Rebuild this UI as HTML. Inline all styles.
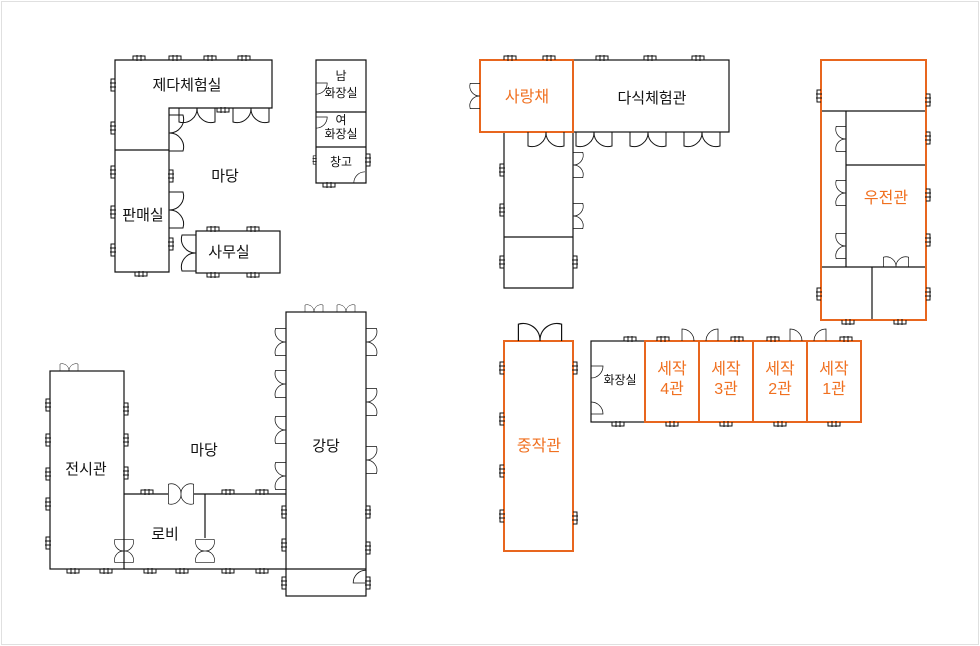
<!DOCTYPE html>
<html><head><meta charset="utf-8"><style>
html,body{margin:0;padding:0;background:#fff}
svg{display:block}
text{font-family:"Liberation Sans","Noto Sans CJK KR",sans-serif;font-size:15px;text-anchor:middle;dominant-baseline:middle;fill:#111}
.o{fill:#f07020;font-size:16px}
.s{font-size:12px}
</style></head><body>
<svg width="980" height="646" viewBox="0 0 980 646" xmlns="http://www.w3.org/2000/svg">
<defs>
<path id="w" d="M-6 0V-4H6V0M-2-5V1M2-5V1" fill="none" stroke="#111" stroke-width="1"/>
<path id="d" d="M-18 0V14A14 14 0 0 0 0 0A14 14 0 0 0 18 14V0" fill="none" stroke="#111" stroke-width="1"/>
<path id="ds" d="M0 0V-16A16 16 0 0 1 16 0" fill="none" stroke="#111" stroke-width="1"/>
<g id="dx"><path d="M-18 0V-14A14 14 0 0 1 0 0A14 14 0 0 1 18 -14V0 M-18 0V14A14 14 0 0 0 0 0A14 14 0 0 0 18 14V0" fill="none" stroke="#111" stroke-width="1"/></g>
</defs>
<rect x="1.5" y="1.5" width="977" height="643" fill="none" stroke="#e0e0e0"/>
<g fill="none" stroke="#111" stroke-width="1.2">
<path d="M115 60H272V108H169V272H115Z M115 150H169"/>
<rect x="196" y="231" width="84" height="42"/>
<path d="M316 60H366V183H316Z M316 112H366 M316 147H366"/>
<rect x="50" y="371" width="74" height="198"/>
<rect x="286" y="312" width="80" height="284"/>
<path d="M124 569H286 M286 569H366 M124 494H168 M194 494H286 M205 494V538"/>
<rect x="573" y="60" width="156" height="72"/>
<path d="M504 132V288H573V132 M504 237H573"/>
<rect x="591" y="341" width="54" height="81"/>
</g>
<g fill="none" stroke="#e8661e" stroke-width="2">
<rect x="480" y="60" width="93" height="72"/>
<rect x="821" y="60" width="105" height="260"/>
<rect x="504" y="341" width="69" height="210"/>
<rect x="645" y="341" width="54" height="81"/>
<rect x="699" y="341" width="54" height="81"/>
<rect x="753" y="341" width="54" height="81"/>
<rect x="807" y="341" width="54" height="81"/>
</g>
<g fill="none" stroke="#111" stroke-width="1.2">
<path d="M822 111H925 M846 111V267 M846 165H925 M822 267H925 M872 267V319"/>
</g>
<g>
<use href="#w" transform="translate(139,60)"/><use href="#w" transform="translate(175,60)"/><use href="#w" transform="translate(210,60)"/><use href="#w" transform="translate(244,60)"/>
<use href="#w" transform="translate(115,85) rotate(-90)"/><use href="#w" transform="translate(115,128) rotate(-90)"/><use href="#w" transform="translate(115,172) rotate(-90)"/><use href="#w" transform="translate(115,212) rotate(-90)"/><use href="#w" transform="translate(115,250) rotate(-90)"/>
<use href="#d" transform="translate(197,108)"/><use href="#d" transform="translate(251,108)"/><use href="#w" transform="translate(223,108) rotate(180)"/>
<use href="#d" transform="translate(169,133) rotate(-90)"/><use href="#d" transform="translate(169,210) rotate(-90)"/>
<use href="#w" transform="translate(169,176) rotate(90)"/><use href="#w" transform="translate(169,244) rotate(90)"/>
<use href="#w" transform="translate(141,272) rotate(180)"/>
<use href="#d" transform="translate(196,253) rotate(90)"/>
<use href="#w" transform="translate(213,231)"/><use href="#w" transform="translate(253,231)"/><use href="#w" transform="translate(213,273) rotate(180)"/><use href="#w" transform="translate(253,273) rotate(180)"/>
<use href="#ds" transform="translate(316,83) rotate(90) scale(0.7)"/><use href="#ds" transform="translate(316,117) rotate(90) scale(0.7)"/>
<use href="#ds" transform="translate(365,183) rotate(-90) scale(0.7)"/>
<use href="#w" transform="translate(316,160) rotate(-90) scale(0.7)"/><use href="#w" transform="translate(366,160) rotate(90)"/><use href="#w" transform="translate(329,183) rotate(180)"/>
<use href="#d" transform="translate(69,371) rotate(180) scale(0.5)"/>
<use href="#w" transform="translate(50,405) rotate(-90)"/><use href="#w" transform="translate(50,440) rotate(-90)"/><use href="#w" transform="translate(50,474) rotate(-90)"/><use href="#w" transform="translate(50,504) rotate(-90)"/><use href="#w" transform="translate(50,543) rotate(-90)"/>
<use href="#w" transform="translate(124,409) rotate(90)"/><use href="#w" transform="translate(124,440) rotate(90)"/><use href="#w" transform="translate(124,473) rotate(90)"/>
<use href="#w" transform="translate(73,569) rotate(180)"/><use href="#w" transform="translate(106,569) rotate(180)"/><use href="#w" transform="translate(150,569) rotate(180)"/><use href="#w" transform="translate(182,569) rotate(180)"/><use href="#w" transform="translate(228,569) rotate(180)"/><use href="#w" transform="translate(262,569) rotate(180)"/>
<use href="#w" transform="translate(147,494)"/><use href="#w" transform="translate(228,494)"/><use href="#w" transform="translate(262,494)"/>
<use href="#dx" transform="translate(181,494) scale(0.7)"/>
<use href="#dx" transform="translate(124,551) rotate(90) scale(0.65)"/><use href="#dx" transform="translate(205,551) rotate(90) scale(0.65)"/>
<use href="#d" transform="translate(314,312) rotate(180) scale(0.5)"/><use href="#d" transform="translate(346,312) rotate(180) scale(0.5)"/>
<use href="#d" transform="translate(286,342) rotate(90) scale(0.75)"/><use href="#d" transform="translate(286,384) rotate(90) scale(0.75)"/><use href="#d" transform="translate(286,430) rotate(90) scale(0.75)"/><use href="#d" transform="translate(286,476) rotate(90) scale(0.75)"/>
<use href="#d" transform="translate(366,342) rotate(-90) scale(0.75)"/><use href="#d" transform="translate(366,402) rotate(-90) scale(0.75)"/><use href="#d" transform="translate(366,460) rotate(-90) scale(0.75)"/>
<use href="#w" transform="translate(286,512) rotate(-90)"/><use href="#w" transform="translate(286,545) rotate(-90)"/><use href="#w" transform="translate(286,583) rotate(-90)"/>
<use href="#w" transform="translate(366,512) rotate(90)"/><use href="#w" transform="translate(366,548) rotate(90)"/><use href="#w" transform="translate(366,583) rotate(90)"/>
<use href="#ds" transform="translate(366,583) rotate(-90) scale(0.8)"/>
<use href="#w" transform="translate(510,60)"/><use href="#w" transform="translate(549,60)"/>
<use href="#w" transform="translate(602,60)"/><use href="#w" transform="translate(650,60)"/><use href="#w" transform="translate(698,60)"/>
<use href="#d" transform="translate(480,96) rotate(90) scale(0.7)"/>
<use href="#d" transform="translate(546,132)"/><use href="#d" transform="translate(594,132)"/><use href="#d" transform="translate(648,132)"/><use href="#d" transform="translate(702,132)"/>
<use href="#d" transform="translate(573,165) rotate(-90) scale(0.7)"/><use href="#d" transform="translate(573,216) rotate(-90) scale(0.7)"/>
<use href="#w" transform="translate(504,170) rotate(-90)"/><use href="#w" transform="translate(504,210) rotate(-90)"/><use href="#w" transform="translate(504,262) rotate(-90)"/><use href="#w" transform="translate(573,262) rotate(90)"/>
<use href="#w" transform="translate(821,96) rotate(-90)"/><use href="#w" transform="translate(926,100) rotate(90)"/><use href="#w" transform="translate(926,138) rotate(90)"/><use href="#w" transform="translate(926,195) rotate(90)"/><use href="#w" transform="translate(926,240) rotate(90)"/><use href="#w" transform="translate(926,294) rotate(90)"/><use href="#w" transform="translate(821,294) rotate(-90)"/>
<use href="#w" transform="translate(848,320) rotate(180)"/><use href="#w" transform="translate(900,320) rotate(180)"/>
<use href="#d" transform="translate(846,139) rotate(90) scale(0.7)"/><use href="#d" transform="translate(846,193) rotate(90) scale(0.7)"/><use href="#d" transform="translate(846,246) rotate(90) scale(0.7)"/>
<use href="#d" transform="translate(896,267) rotate(180) scale(0.7)"/>
<use href="#d" transform="translate(540,341) rotate(180) scale(1.2)"/>
<use href="#w" transform="translate(504,368) rotate(-90)"/><use href="#w" transform="translate(504,419) rotate(-90)"/><use href="#w" transform="translate(504,471) rotate(-90)"/><use href="#w" transform="translate(504,516) rotate(-90)"/>
<use href="#w" transform="translate(573,368) rotate(90)"/><use href="#w" transform="translate(573,518) rotate(90)"/>
<use href="#w" transform="translate(630,341)"/><use href="#w" transform="translate(663,341)"/><use href="#w" transform="translate(737,341)"/><use href="#w" transform="translate(773,341)"/><use href="#w" transform="translate(846,341)"/>
<use href="#ds" transform="translate(682,341) scale(0.75)"/><use href="#ds" transform="translate(718,341) scale(-0.75,0.75)"/><use href="#ds" transform="translate(790,341) scale(0.75)"/><use href="#ds" transform="translate(826,341) scale(-0.75,0.75)"/>
<use href="#ds" transform="translate(591,366) rotate(90) scale(0.75)"/><use href="#ds" transform="translate(591,414) rotate(90) scale(-0.75,0.75)"/>
<use href="#w" transform="translate(618,422) rotate(180)"/><use href="#w" transform="translate(672,422) rotate(180)"/><use href="#w" transform="translate(726,422) rotate(180)"/><use href="#w" transform="translate(780,422) rotate(180)"/><use href="#w" transform="translate(834,422) rotate(180)"/>
</g>
<text x="187" y="86">제다체험실</text>
<text x="225" y="177">마당</text>
<text x="143" y="216">판매실</text>
<text x="229" y="253">사무실</text>
<text x="341" y="77" class="s">남</text><text x="341" y="94" class="s">화장실</text>
<text x="341" y="121" class="s">여</text><text x="341" y="135" class="s">화장실</text>
<text x="341" y="163" class="s">창고</text>
<text x="86" y="470">전시관</text>
<text x="204" y="451">마당</text>
<text x="165" y="535">로비</text>
<text x="326" y="447">강당</text>
<text x="527" y="98" class="o">사랑채</text>
<text x="652" y="99">다식체험관</text>
<text x="886" y="199" class="o">우전관</text>
<text x="539" y="447" class="o">중작관</text>
<text x="620" y="381" class="s">화장실</text>
<text x="672" y="370" class="o">세작</text><text x="672" y="390" class="o">4관</text>
<text x="726" y="370" class="o">세작</text><text x="726" y="390" class="o">3관</text>
<text x="780" y="370" class="o">세작</text><text x="780" y="390" class="o">2관</text>
<text x="834" y="370" class="o">세작</text><text x="834" y="390" class="o">1관</text>
</svg>
</body></html>
